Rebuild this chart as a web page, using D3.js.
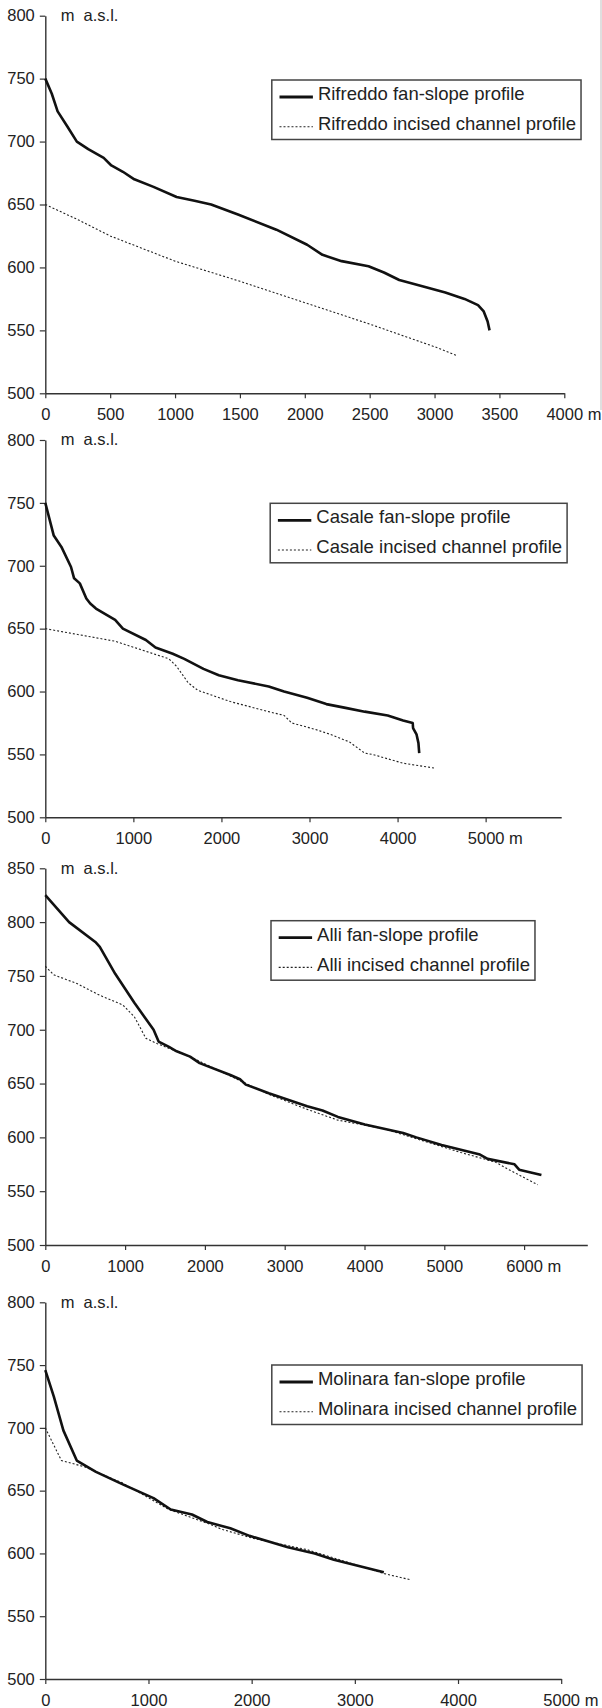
<!DOCTYPE html>
<html><head><meta charset="utf-8">
<script src="https://cdn.jsdelivr.net/npm/d3@7"></script>
<style>
body{margin:0;background:#fff}
text{font-family:"Liberation Sans",Arial,Helvetica,sans-serif;fill:#222}
</style>
</head><body><svg id="c" width="602" height="1708"></svg>
<script>
// ---------- DATA ----------
const yTicks800 = [500, 550, 600, 650, 700, 750, 800];
const yTicks850 = [500, 550, 600, 650, 700, 750, 800, 850];
const xTicksRifreddo = [0, 500, 1000, 1500, 2000, 2500, 3000, 3500, 4000];
const xTicksCasale = [0, 1000, 2000, 3000, 4000, 5000];
const xTicksAlli = [0, 1000, 2000, 3000, 4000, 5000, 6000];
const xTicksMolinara = [0, 1000, 2000, 3000, 4000, 5000];
const streamNames = ["Rifreddo", "Casale", "Alli", "Molinara"];
const seriesLabels = ["fan-slope profile", "incised channel profile"];
const yUnitLabel = "m  a.s.l.";
const xUnitLabel = " m";

// [distance (m), elevation (m a.s.l.)]
const rifreddoFan = [[0,750],[50,738],[95,724],[170,712],[243,700],[331,694],[450,687],[509,681],[598,676],[686,670],[834,664],[1012,656],[1150,653],[1278,650],[1485,642],[1781,630],[2018,618],[2136,610],[2284,605],[2491,601],[2610,596],[2728,590],[2906,585],[3083,580],[3231,575],[3335,570],[3379,565],[3409,557],[3424,550]];
const rifreddoChannel = [[0,650],[250,638],[500,625],[750,615],[1000,605],[1500,589],[2000,572],[2500,555],[3000,537],[3170,530]];
const casaleFan = [[0,750],[96,724],[183,715],[292,699],[327,690],[392,686],[466,674],[510,670],[575,666],[793,657],[881,650],[1142,641],[1251,635],[1447,630],[1578,626],[1796,618],[1970,613],[2188,609],[2537,604],[2711,600],[2973,595],[3191,590],[3409,587],[3627,584],[3888,581],[4063,577],[4172,575],[4176,571],[4215,566],[4237,559],[4246,551]];
const casaleChannel = [[0,650],[793,640],[1404,626],[1491,620],[1622,607],[1731,601],[2101,592],[2537,584],[2711,581],[2799,575],[3060,570],[3234,566],[3452,560],[3627,551],[3714,550],[4063,543],[4433,539]];
const alliFan = [[0,825],[298,800],[635,781],[683,777],[876,752],[1116,725],[1357,700],[1420,689],[1550,684],[1646,680],[1814,675],[1934,669],[2319,658],[2440,654],[2512,649],[2801,641],[3282,629],[3474,625],[3667,619],[4004,612],[4485,604],[4650,600],[4966,593],[5447,584],[5543,580],[5880,575],[5938,570],[6217,565]];
const alliChannel = [[0,759],[106,751],[395,743],[683,732],[972,723],[1116,712],[1261,692],[1405,687],[1838,674],[2319,657],[2801,640],[3282,626],[3667,616],[4244,608],[4725,597],[5206,586],[5640,577],[5784,571],[6170,556]];
const molinaraFan = [[0,746],[82,725],[175,698],[305,674],[491,665],[751,655],[1049,644],[1216,635],[1421,631],[1570,625],[1793,620],[1979,614],[2351,605],[2611,600],[2797,595],[3281,585]];
const molinaraChannel = [[0,700],[156,674],[380,669],[751,656],[1198,635],[1570,624],[1719,619],[2016,612],[2537,603],[3281,584],[3541,579]];

// ---------- LAYOUT ----------
const panels = [
  {fan: rifreddoFan, ch: rifreddoChannel, xTicks: xTicksRifreddo, yTicks: yTicks800, xMax: 4000, yMax: 800,
   x0: 45.3, x1: 564.3, yTop: 15.7, yBot: 393.3, lx: 271.8, ly: 80},
  {fan: casaleFan, ch: casaleChannel, xTicks: xTicksCasale, yTicks: yTicks800, xMax: 5858, yMax: 800,
   x0: 45.3, x1: 561.2, yTop: 440, yBot: 817.3, lx: 270.2, ly: 503.3},
  {fan: alliFan, ch: alliChannel, xTicks: xTicksAlli, yTicks: yTicks850, xMax: 6792, yMax: 850,
   x0: 45.3, x1: 587.3, yTop: 868.3, yBot: 1245, lx: 271, ly: 920.7},
  {fan: molinaraFan, ch: molinaraChannel, xTicks: xTicksMolinara, yTicks: yTicks800, xMax: 5000, yMax: 800,
   x0: 45.3, x1: 561.2, yTop: 1302.3, yBot: 1679, lx: 271.8, ly: 1365}
];

const svg = d3.select("#c");
const AX = "#333", TICK_FS = "16.5px", LEG_FS = "18.5px";

// faint scan border at the right edge of the top panel
svg.append("line").attr("x1", 601).attr("x2", 601).attr("y1", 0).attr("y2", 410)
  .attr("stroke", "#d4d4d4").attr("stroke-width", 1.5);

panels.forEach((p, i) => {
  const g = svg.append("g");
  const x = d3.scaleLinear().domain([0, p.xMax]).range([p.x0, p.x1]);
  const y = d3.scaleLinear().domain([500, p.yMax]).range([p.yBot, p.yTop]);

  const ya = g.append("g").attr("transform", `translate(${p.x0},0)`)
    .call(d3.axisLeft(y).tickValues(p.yTicks).tickSize(5.5).tickSizeOuter(0).tickPadding(5).tickFormat(d3.format("d")));
  const xa = g.append("g").attr("transform", `translate(0,${p.yBot})`)
    .call(d3.axisBottom(x).tickValues(p.xTicks).tickSize(5).tickSizeOuter(0).tickPadding(10).tickFormat(d3.format("d")));
  [ya, xa].forEach(a => {
    a.attr("font-family", null).attr("font-size", null);
    a.select(".domain").attr("stroke", AX).attr("stroke-width", 1.4);
    a.selectAll(".tick line").attr("stroke", AX).attr("stroke-width", 1.2);
    a.selectAll(".tick text").style("font-size", TICK_FS).attr("fill", "#222");
  });
  // last x tick gets unit " m", with the number kept centred on the tick
  const lastT = xa.selectAll(".tick text").filter((d, k, n) => k === n.length - 1);
  const w = lastT.node().getComputedTextLength();
  lastT.attr("text-anchor", "start").attr("x", -w / 2).text(d => d + xUnitLabel).style("white-space", "pre");

  g.append("text").attr("x", 60.7).attr("y", p.yTop).attr("dy", "0.32em")
    .style("font-size", TICK_FS).style("white-space", "pre").text(yUnitLabel);

  const line = d3.line().x(d => x(d[0])).y(d => y(d[1])).curve(d3.curveLinear);
  g.append("path").datum(p.ch).attr("d", line).attr("fill", "none")
    .attr("stroke", "#222").attr("stroke-width", 1.1).attr("stroke-dasharray", "2,2");
  g.append("path").datum(p.fan).attr("d", line).attr("fill", "none")
    .attr("stroke", "#111").attr("stroke-width", 2.6).attr("stroke-linejoin", "round");

  // legend
  const lg = g.append("g").attr("transform", `translate(${p.lx},${p.ly})`);
  const rect = lg.append("rect").attr("x", 0).attr("y", 0).attr("height", 59.5)
    .attr("fill", "#fff").attr("stroke", "#444").attr("stroke-width", 1.5);
  lg.append("line").attr("x1", 7.7).attr("x2", 41.1).attr("y1", 17).attr("y2", 17)
    .attr("stroke", "#111").attr("stroke-width", 2.8);
  lg.append("line").attr("x1", 7.7).attr("x2", 41.1).attr("y1", 46.7).attr("y2", 46.7)
    .attr("stroke", "#222").attr("stroke-width", 1.1).attr("stroke-dasharray", "2,2");
  const t1 = lg.append("text").attr("x", 46.1).attr("y", 20).style("font-size", LEG_FS)
    .text(streamNames[i] + " " + seriesLabels[0]);
  const t2 = lg.append("text").attr("x", 46.1).attr("y", 50).style("font-size", LEG_FS)
    .text(streamNames[i] + " " + seriesLabels[1]);
  const tw = Math.max(t1.node().getComputedTextLength(), t2.node().getComputedTextLength());
  rect.attr("width", 46.1 + tw + 5);
});
</script>
</body></html>
